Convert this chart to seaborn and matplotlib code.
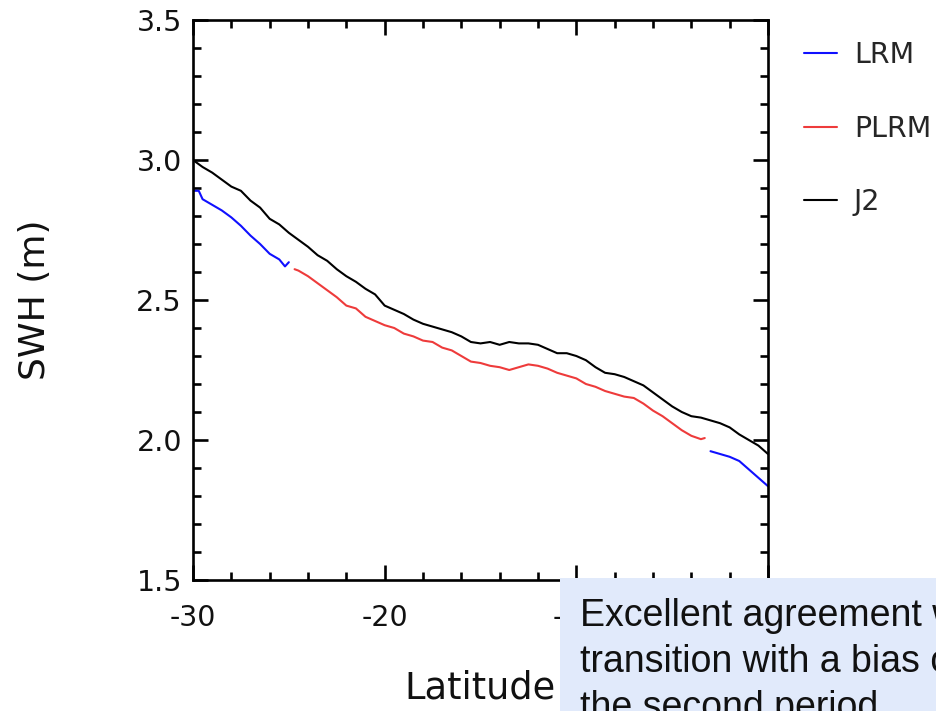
import numpy as np
import pandas as pd
import matplotlib
matplotlib.use("Agg")
import matplotlib.pyplot as plt
import seaborn as sns
from matplotlib.patches import Rectangle
from matplotlib.ticker import MultipleLocator

# ---- data ----
j2_lat = [-30, -29.5, -29, -28.5, -28, -27.5, -27, -26.5, -26, -25.5, -25, -24.5, -24, -23.5,
          -23, -22.5, -22, -21.5, -21, -20.5, -20, -19.5, -19, -18.5, -18, -17.5, -17, -16.5,
          -16, -15.5, -15, -14.5, -14, -13.5, -13, -12.5, -12, -11.5, -11, -10.5, -10, -9.5,
          -9, -8.5, -8, -7.5, -7, -6.5, -6, -5.5, -5, -4.5, -4, -3.5, -3, -2.5, -2, -1.5,
          -1, -0.5, 0]
j2_swh = [3.00, 2.975, 2.955, 2.93, 2.905, 2.89, 2.855, 2.83, 2.79, 2.77, 2.74, 2.715, 2.69, 2.66,
          2.64, 2.61, 2.585, 2.565, 2.54, 2.52, 2.48, 2.465, 2.45, 2.43, 2.415, 2.405, 2.395, 2.385,
          2.37, 2.35, 2.345, 2.35, 2.34, 2.35, 2.345, 2.345, 2.34, 2.325, 2.31, 2.31, 2.30, 2.285,
          2.26, 2.24, 2.235, 2.225, 2.21, 2.195, 2.17, 2.145, 2.12, 2.10, 2.085, 2.08, 2.07, 2.06,
          2.045, 2.02, 2.0, 1.98, 1.95]

plrm_lat = [-24.7, -24.5, -24, -23.5, -23, -22.5, -22, -21.5, -21, -20.5, -20, -19.5, -19, -18.5,
            -18, -17.5, -17, -16.5, -16, -15.5, -15, -14.5, -14, -13.5, -13, -12.5, -12, -11.5,
            -11, -10.5, -10, -9.5, -9, -8.5, -8, -7.5, -7, -6.5, -6, -5.5, -5, -4.5, -4, -3.5, -3.3]
plrm_swh = [2.61, 2.605, 2.585, 2.56, 2.535, 2.51, 2.48, 2.47, 2.44, 2.425, 2.41, 2.40, 2.38, 2.37,
            2.355, 2.35, 2.33, 2.32, 2.30, 2.28, 2.275, 2.265, 2.26, 2.25, 2.26, 2.27, 2.265, 2.255,
            2.24, 2.23, 2.22, 2.20, 2.19, 2.175, 2.165, 2.155, 2.15, 2.13, 2.105, 2.085, 2.06, 2.035,
            2.015, 2.003, 2.007]

lrm1_lat = [-30, -29.7, -29.5, -29, -28.5, -28, -27.5, -27, -26.5, -26, -25.5, -25.2, -25.0]
lrm1_swh = [2.89, 2.89, 2.86, 2.84, 2.82, 2.795, 2.765, 2.73, 2.70, 2.665, 2.645, 2.62, 2.635]
lrm2_lat = [-3.0, -2.5, -2.0, -1.5, -1.0, -0.5, 0.0]
lrm2_swh = [1.96, 1.95, 1.94, 1.925, 1.895, 1.865, 1.835]

series_names = ["LRM", "PLRM", "J2"]
series_colors = ["#1010ff", "#ee3b3b", "#000000"]
x_ticks = [-30, -20, -10, 0]
y_ticks = [1.5, 2.0, 2.5, 3.0, 3.5]
note_lines = ["Excellent agreement with", "transition with a bias of", "the second period"]

frames = [
    pd.DataFrame({"lat": lrm1_lat, "swh": lrm1_swh, "series": "LRM", "seg": "LRM-1"}),
    pd.DataFrame({"lat": lrm2_lat, "swh": lrm2_swh, "series": "LRM", "seg": "LRM-2"}),
    pd.DataFrame({"lat": plrm_lat, "swh": plrm_swh, "series": "PLRM", "seg": "PLRM-1"}),
    pd.DataFrame({"lat": j2_lat, "swh": j2_swh, "series": "J2", "seg": "J2-1"}),
]
df = pd.concat(frames, ignore_index=True)

sns.set_theme(style="white")
plt.rcParams["font.family"] = ["DejaVu Sans"]

fig = plt.figure(figsize=(9.37, 7.11), dpi=100)
ax = fig.add_axes([193 / 937, 1 - 580 / 711, 575 / 937, 560 / 711])

sns.lineplot(data=df, x="lat", y="swh", hue="series", units="seg", estimator=None,
             hue_order=series_names, palette=dict(zip(series_names, series_colors)),
             linewidth=1.5, ax=ax, sort=False)

ax.set_xlim(-30, 0)
ax.set_ylim(1.5, 3.5)
ax.set_xticks(x_ticks)
ax.set_xticklabels([str(t) for t in x_ticks])
ax.set_yticks(y_ticks)
ax.set_yticklabels([f"{t:.1f}" for t in y_ticks])
ax.xaxis.set_minor_locator(MultipleLocator(2))
ax.yaxis.set_minor_locator(MultipleLocator(0.1))

for s in ax.spines.values():
    s.set_visible(True)
    s.set_linewidth(1.9)
    s.set_color("black")

ax.tick_params(which="both", direction="in", top=True, right=True, bottom=True, left=True,
               color="black", width=1.9)
ax.tick_params(which="major", length=11, labelsize=20.5, labelcolor="#111111")
ax.tick_params(which="minor", length=6)
ax.tick_params(axis="x", which="major", pad=17.5)
ax.tick_params(axis="y", which="major", pad=8)

ax.set_xlabel("Latitude", fontsize=26.5, color="#111111")
ax.set_ylabel("SWH (m)", fontsize=26, color="#111111")
ax.xaxis.set_label_coords(0.5, -0.16)
ax.yaxis.set_label_coords(-0.245, 0.5)

leg = ax.legend(loc="upper left", bbox_to_anchor=(0.846, 0.958), bbox_transform=fig.transFigure,
                frameon=False, fontsize=20.5, handlelength=1.15, handletextpad=0.6,
                labelspacing=1.6, borderaxespad=0)
for line in leg.get_lines():
    line.set_linewidth(1.5)

# annotation box overlapping the lower right of the figure
fig.patches.append(Rectangle((560 / 937, -0.05), 0.5, 0.05 + 1 - 578 / 711,
                             transform=fig.transFigure, facecolor="#e1eafb",
                             edgecolor="none", zorder=10))
fig.text(580 / 937, 1 - 598 / 711, "\n".join(note_lines), transform=fig.transFigure,
         fontsize=27, family=["Liberation Sans", "DejaVu Sans"], color="#111111",
         ha="left", va="top", linespacing=1.35, zorder=11)

fig.savefig("out.png", dpi=100)
